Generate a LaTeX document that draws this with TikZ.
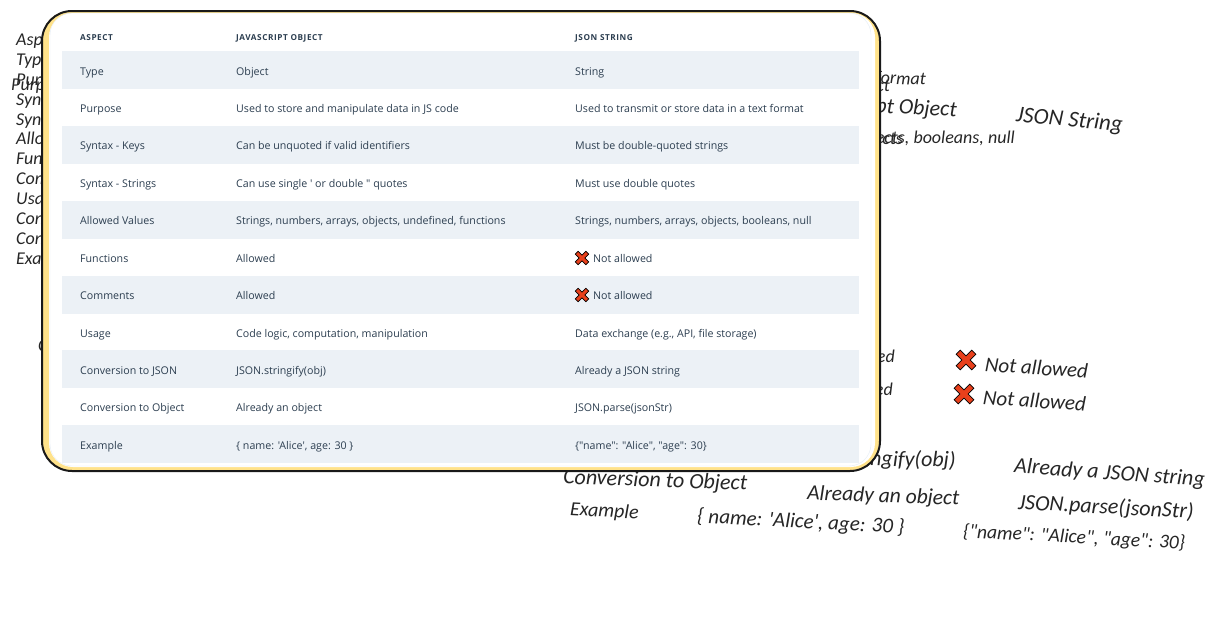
\documentclass[tikz,border=0pt]{standalone}
\usepackage{fontspec}
\setmainfont{Open Sans}[Ligatures=TeXOff]
\newfontfamily\headfont{Open Sans}[LetterSpace=7,Ligatures=TeXOff]
\newfontfamily\handfont{Carlito}[ItalicFont=Carlito Italic,Ligatures=TeXOff]
\definecolor{rowshade}{HTML}{ECF1F6}
\definecolor{celltext}{HTML}{2C3E50}
\definecolor{cardyellow}{HTML}{FFE28A}
\definecolor{cardedge}{HTML}{E6EDF5}
\definecolor{crossred}{HTML}{E8401C}
\tikzset{
  handtext/.style={font=\handfont\itshape\fontsize{#1}{#1}\selectfont,text=black!85,anchor=west,inner sep=0pt},
  handtext/.default=20,
  cell/.style={font=\fontsize{10.65}{12}\selectfont,text=celltext,anchor=west,inner sep=0pt,text height=10pt,text depth=2pt},
  headcell/.style={font=\headfont\bfseries\fontsize{8.2}{10}\selectfont,text=celltext,anchor=west,inner sep=0pt,text height=8pt,text depth=2pt},
  crossmark/.pic={
    \draw[line width=.7pt,fill=crossred,rotate=45,scale=#1]
    (-1,-.27)--(-.27,-.27)--(-.27,-1)--(.27,-1)--(.27,-.27)--(1,-.27)--(1,.27)--(.27,.27)--(.27,1)--(-.27,1)--(-.27,.27)--(-1,.27)--cycle;
  }
}
\begin{document}
\begin{tikzpicture}[x=1pt,y=-1pt]
\useasboundingbox (0,0) rectangle (1218,616);
% sketch text behind the card
\foreach \ypos/\word [count=\n] in {41/Aspect,61/Type,81/Purpose,101/Syntax,121/Syntax,140/Allowed,160/Functions,180/Comments,200/Usage,220/Conversion,240/Conversion,260/Example}
  \node[handtext=18,text height=13pt,text depth=4pt] (left\n) at (16,\ypos) {\word};
\node[handtext=18,text height=13pt,text depth=4pt] (leftb) at (11,86) {Purpose};
\node[handtext=18] (leftc) at (38,346) {Comments};
\node[handtext=18,anchor=east,rotate=-2] (fmt) at (926,80) {text format};
\node[handtext=18,anchor=east] (objt) at (890,87) {Object};
\node[handtext=22,anchor=east,rotate=-3] (jsobj) at (957,111) {JavaScript Object};
\node[handtext=22.8,rotate=-5] (jsstr) at (1016,116) {JSON String};
\node[handtext=18,anchor=east] (vala) at (903,140) {objects};
\node[handtext=18,anchor=east] (valb) at (1015,139) {objects, booleans, null};
\node[handtext=18,anchor=east] (alla) at (895,356) {Allowed};
\node[handtext=18,anchor=east] (allb) at (893,389) {Allowed};
\pic (crossa) at (966,360) {crossmark=11};
\pic (crossb) at (964,394) {crossmark=11};
\node[handtext=21,rotate=-4] (nota) at (985,364) {Not allowed};
\node[handtext=21,rotate=-4] (notb) at (983,397) {Not allowed};
\node[handtext=22,anchor=east,rotate=-1] (strfy) at (956,461) {JSON.stringify(obj)};
\node[handtext=22,rotate=-4] (alrj) at (1014,467) {Already a JSON string};
\node[handtext=21.5,rotate=-2] (alro) at (807,494) {Already an object};
\node[handtext=22,rotate=-3] (prs) at (1018,503) {JSON.parse(jsonStr)};
\node[handtext=22,rotate=-2] (cobj) at (563,478) {Conversion to Object};
\node[handtext=20,rotate=-3] (exm) at (570,510) {Example};
\node[handtext=21,rotate=-3] (exa) at (697,517) {\{ name: 'Alice', age: 30 \}};
\node[handtext=19.5,rotate=-3] (exb) at (963,532) {\{"name": "Alice", "age": 30\}};
% card
\fill[cardyellow,rounded corners=28] (42,11) rectangle (879,470);
\fill[white,rounded corners=24] (49,13) rectangle (875,467);
\draw[cardedge,rounded corners=22] (50,13) rectangle (871,466);
\draw[line width=2pt,black!90,rounded corners=30] (42,11) rectangle (880,471);
% table
\foreach \ya in {51,126,201,276,350,425}
  \fill[rowshade] (62,\ya) rectangle (859,\ya+37.5);
\node[headcell] (heada) at (80,37) {ASPECT};
\node[headcell] (headb) at (236,37) {JAVASCRIPT OBJECT};
\node[headcell] (headc) at (575,37) {JSON STRING};
\foreach \yr/\cola/\colb/\colc [count=\n] in {
  71/Type/Object/String,
  108/Purpose/Used to store and manipulate data in JS code/Used to transmit or store data in a text format,
  145.5/Syntax - Keys/Can be unquoted if valid identifiers/Must be double-quoted strings,
  183/Syntax - Strings/Can use single ' or double " quotes/Must use double quotes,
  220.5/Allowed Values/{Strings, numbers, arrays, objects, undefined, functions}/{Strings, numbers, arrays, objects, booleans, null},
  258/Functions/Allowed/,
  295.5/Comments/Allowed/,
  333/Usage/{Code logic, computation, manipulation}/{Data exchange (e.g., API, file storage)},
  370/Conversion to JSON/JSON.stringify(obj)/Already a JSON string,
  407.5/Conversion to Object/Already an object/JSON.parse(jsonStr),
  445/Example/{\{ name: 'Alice', age: 30 \}}/{\{"name": "Alice", "age": 30\}}}
{
  \node[cell] (aspect\n) at (80,\yr) {\cola};
  \node[cell] (jsobj\n) at (236,\yr) {\colb};
  \node[cell] (jsonstr\n) at (575,\yr) {\colc};
}
\pic (crossc) at (582,258) {crossmark=7.5};
\node[cell] (nallowa) at (593,258) {Not allowed};
\pic (crossd) at (582,295) {crossmark=7.5};
\node[cell] (nallowb) at (593,295.5) {Not allowed};
\end{tikzpicture}
\end{document}
